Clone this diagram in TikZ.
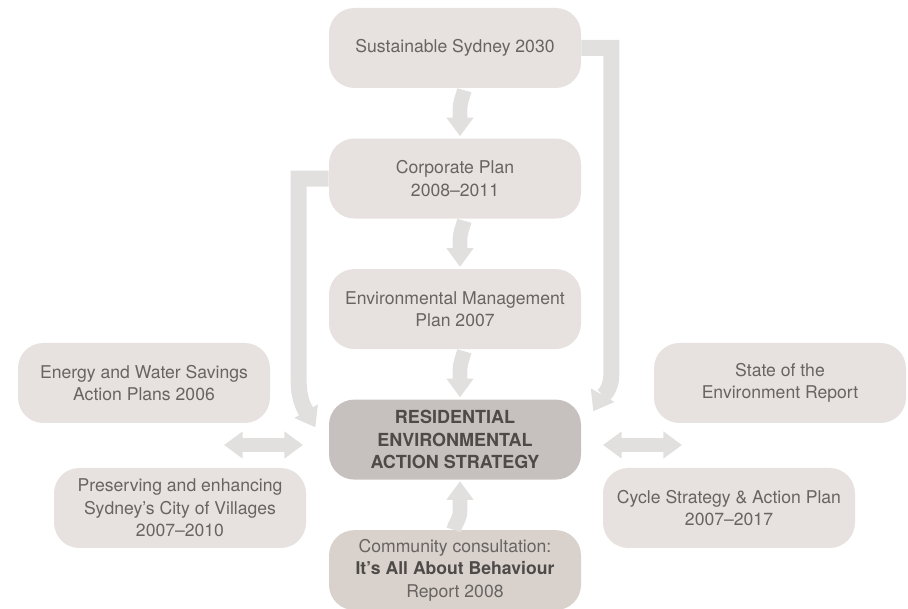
\documentclass[tikz,border=0pt]{standalone}
\usepackage{fontspec}
\setmainfont{TeX Gyre Heros}
\usetikzlibrary{calc,positioning}
\usetikzlibrary{arrows.meta}
\usepackage{xcolor}
\definecolor{boxgrey}{HTML}{E7E2DF}
\definecolor{coregrey}{HTML}{C6C1BF}
\definecolor{commgrey}{HTML}{D9D2CC}
\definecolor{arrowgrey}{HTML}{E1E0DF}
\definecolor{textgrey}{HTML}{686462}
\definecolor{boldgrey}{HTML}{4E4A48}

\begin{document}
\begin{tikzpicture}[x=0.75pt, y=0.75pt,
    plan/.style = {fill=boxgrey, rounded corners=19pt, minimum width=189pt, minimum height=60pt, align=center, text=textgrey, font=\fontsize{13.2}{17}\selectfont},
    core/.style = {plan, fill=coregrey, text=boldgrey, font=\fontsize{13.5}{17}\selectfont\bfseries},
    flow/.style = {draw=arrowgrey, line width=11pt, -{Triangle[width=19.5pt,length=14pt]}},
    link/.style = {flow, {Triangle[width=19.5pt,length=14pt]}-{Triangle[width=19.5pt,length=14pt]}},
    node distance=97.9pt]
    \useasboundingbox (0,0) rectangle (908,-609);
    \node[plan] (sus) at (455,-48) {Sustainable Sydney 2030};
    \node[plan] (corp) [below of=sus] {Corporate Plan\\2008--2011};
    \node[plan] (emp) [below of=corp] {Environmental Management\\Plan 2007};
    \node[core] (reas) [below of=emp] {RESIDENTIAL\\ENVIRONMENTAL\\ACTION STRATEGY};
    \node[plan, fill=commgrey] (comm) [below of=reas] {Community consultation:\\{\bfseries\color{boldgrey}It’s All About Behaviour}\\Report 2008};
    \node[plan] (ews) at (144,-383) {Energy and Water Savings\\Action Plans 2006};
    \node[plan] (pev) at (180,-508) {Preserving and enhancing\\Sydney’s City of Villages\\2007--2010};
    \node[plan] (soe) at (780,-383) {State of the\\Environment Report};
    \node[plan] (csa) at (729,-508) {Cycle Strategy \& Action Plan\\2007--2017};
    \coordinate (lw1) at (224,-445);
    \coordinate (lw2) at (303,-445);
    \coordinate (rw1) at (603,-445);
    \coordinate (rw2) at (682,-445);
    % down the middle
    \draw[flow] ([xshift=7pt,yshift=-1.5pt]sus.south) to[out=-105,in=90] ([xshift=3.75pt,yshift=-16pt]sus.south) -- ([xshift=3.75pt,yshift=1.5pt]corp.north);
    \draw[flow] ([xshift=7pt,yshift=-1.5pt]corp.south) to[out=-105,in=90] ([xshift=3.75pt,yshift=-16pt]corp.south) -- ([xshift=3.75pt,yshift=1.5pt]emp.north);
    \draw[flow] ([xshift=7pt,yshift=-1.5pt]emp.south) to[out=-105,in=90] ([xshift=3.75pt,yshift=-16pt]emp.south) -- ([xshift=3.75pt,yshift=1.5pt]reas.north);
    \draw[flow] ([xshift=-1pt]comm.north) to[out=75,in=-90] ([xshift=3.75pt,yshift=14pt]comm.north) -- ([xshift=3.75pt,yshift=-1pt]reas.south);
    % the long ones
    \draw[flow, line width=12pt] (corp.west) -- ++(-30,0) -- ++(0,-204) to[out=-90,in=120] ([xshift=-10pt,yshift=-21pt]reas.north west);
    \draw[flow, line width=12pt] (sus.east) -- ++(30,0) -- ++(0,-327) to[out=-90,in=60] ([xshift=9pt,yshift=-9pt]reas.north east);
    \draw[link] (lw1) -- (lw2);
    \draw[link] (rw1) -- (rw2);
\end{tikzpicture}
\end{document}
